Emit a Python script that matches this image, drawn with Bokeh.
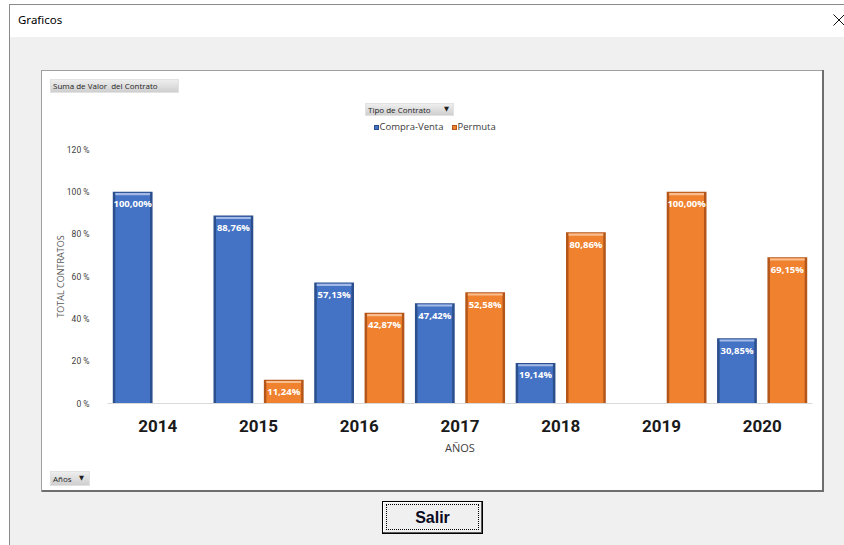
from bokeh.plotting import figure
from bokeh.models import (ColumnDataSource, FactorRange, Range1d, FixedTicker,
                          PrintfTickFormatter, LabelSet, Div, Spacer)
from bokeh.layouts import column, row
from bokeh.transform import dodge
from bokeh.core.properties import value
from bokeh.embed import file_html
from bokeh.resources import INLINE

# ---------------- data ----------------
years = ["2014", "2015", "2016", "2017", "2018", "2019", "2020"]
compra_venta = [100.00, 88.76, 57.13, 47.42, 19.14, None, 30.85]
permuta = [None, 11.24, 42.87, 52.58, 80.86, 100.00, 69.15]
series_names = ["Compra-Venta", "Permuta"]
y_ticks = [0, 20, 40, 60, 80, 100, 120]

BLUE, BLUE_DARK, BLUE_LIGHT = "#4472C4", "#2B4E8C", "#A3BAE6"
ORANGE, ORANGE_DARK, ORANGE_LIGHT = "#F0822F", "#B4561A", "#F9BE90"


def fmt(v):
    return f"{v:.2f}".replace(".", ",") + "%"


def make_source(vals):
    ys = [y for y, v in zip(years, vals) if v is not None]
    vs = [v for v in vals if v is not None]
    return ColumnDataSource(dict(
        year=ys, value=vs,
        inner_top=[v - 0.45 for v in vs],
        hl_top=[v - 0.6 for v in vs],
        hl_bottom=[v - 1.6 for v in vs],
        label=[fmt(v) for v in vs],
    ))


src_cv = make_source(compra_venta)
src_pe = make_source(permuta)

# ---------------- chart figure ----------------
p = figure(width=780, height=327,
           x_range=FactorRange(*years, range_padding=0),
           y_range=Range1d(0, 120),
           output_backend="svg", toolbar_location=None,
           min_border_left=65, min_border_right=10,
           min_border_top=10, min_border_bottom=63,
           border_fill_color="white", background_fill_color="white",
           outline_line_color=None)
p.xgrid.visible = False
p.ygrid.visible = False

styles = {
    "Compra-Venta": dict(dark=BLUE_DARK, main=BLUE, light=BLUE_LIGHT, off=-0.25, src=src_cv),
    "Permuta": dict(dark=ORANGE_DARK, main=ORANGE, light=ORANGE_LIGHT, off=0.25, src=src_pe),
}
for name in series_names:
    s = styles[name]
    xd = dodge("year", s["off"], range=p.x_range)
    p.vbar(x=xd, top="value", bottom=0, width=0.395, source=s["src"],
           fill_color=s["dark"], line_color=None)
    p.vbar(x=xd, top="inner_top", bottom=0, width=0.345, source=s["src"],
           fill_color=s["main"], line_color=None)
    p.vbar(x=xd, top="hl_top", bottom="hl_bottom", width=0.345, source=s["src"],
           fill_color=s["light"], line_color=None)
    p.add_layout(LabelSet(x=xd, y="value", text="label", source=s["src"],
                          y_offset=-12, text_align="center", text_baseline="middle",
                          text_color="white", text_font=value("Open Sans"),
                          text_font_size="9.5px", text_font_style="bold"))

p.yaxis.ticker = FixedTicker(ticks=y_ticks)
p.yaxis.formatter = PrintfTickFormatter(format="%d %%")
p.yaxis.axis_line_color = None
p.yaxis.major_tick_line_color = None
p.yaxis.minor_tick_line_color = None
p.yaxis.major_tick_out = 0
p.yaxis.major_tick_in = 0
p.yaxis.major_label_text_font = "Roboto"
p.yaxis.major_label_text_font_size = "8.5px"
p.yaxis.major_label_text_color = "#404040"
p.yaxis.major_label_standoff = 18
p.yaxis.axis_label = "TOTAL CONTRATOS"
p.yaxis.axis_label_text_font = "Open Sans"
p.yaxis.axis_label_text_font_size = "9px"
p.yaxis.axis_label_text_font_style = "normal"
p.yaxis.axis_label_text_color = "#595959"
p.yaxis.axis_label_standoff = -3

p.xaxis.axis_line_color = "#D9D9D9"
p.xaxis.major_tick_line_color = None
p.xaxis.minor_tick_line_color = None
p.xaxis.major_tick_out = 0
p.xaxis.major_tick_in = 0
p.xaxis.major_label_text_font = "Roboto"
p.xaxis.major_label_text_font_size = "17px"
p.xaxis.major_label_text_font_style = "bold"
p.xaxis.major_label_text_color = "#1A1A1A"
p.xaxis.major_label_standoff = 16
p.xaxis.axis_label = "AÑOS"
p.xaxis.axis_label_text_font = "Open Sans"
p.xaxis.axis_label_text_font_size = "11px"
p.xaxis.axis_label_text_font_style = "normal"
p.xaxis.axis_label_text_color = "#404040"
p.xaxis.axis_label_standoff = 5

# ---------------- dialog chrome (HTML) ----------------
FIELD_BTN = ("position:absolute;box-sizing:border-box;background:linear-gradient(#EEEEEE,#CFCFCF);"
             "border:1px solid #E2E2E2;font-family:'Open Sans';font-size:8px;color:#1E1E1E;"
             "white-space:pre;line-height:{h}px;")


def field_button(left, top, w, h, text, arrow_left=None):
    arrow = ""
    if arrow_left is not None:
        arrow = (f"<span style='position:absolute;left:{arrow_left}px;top:0;"
                 f"font-family:\"DejaVu Sans\";font-size:6.5px;'>▼</span>")
    return (f"<div style=\"{FIELD_BTN.format(h=h - 2)}left:{left}px;top:{top}px;"
            f"width:{w}px;height:{h}px;padding-left:2px;\">{text}{arrow}</div>")


def legend_entry(left, color, border, label):
    return (f"<div style='position:absolute;left:{left}px;top:54.5px;width:5px;height:5px;"
            f"background:{color};border:0.5px solid {border};box-sizing:border-box;'></div>"
            f"<div style='position:absolute;left:{left + 5.5}px;top:50px;line-height:14px;"
            f"font-family:\"Open Sans\";font-size:9.5px;color:#3A3A3A;white-space:nowrap;'>{label}</div>")


GRAY_LINE = "#8A8A8A"

left_strip = Div(width=10, height=545, margin=0, styles={"background-color": "white"},
                 text=f"<div style='position:relative;width:10px;height:545px;'>"
                      f"<div style='position:absolute;left:9px;top:4px;width:1px;height:541px;"
                      f"background:{GRAY_LINE};'></div></div>")

title_bar = Div(width=834, height=37, margin=0, styles={"background-color": "white"},
                text=f"<div style='position:relative;width:834px;height:37px;'>"
                     f"<div style='position:absolute;left:0;top:4px;width:834px;height:1px;background:{GRAY_LINE};'></div>"
                     f"<div style='position:absolute;left:8px;top:11px;line-height:18px;"
                     f"font-family:\"Noto Sans\";font-size:11.5px;color:#000;'>Graficos</div>"
                     f"<svg style='position:absolute;left:823px;top:14px;' width='12' height='12'>"
                     f"<line x1='0.5' y1='0.5' x2='11.5' y2='11.5' stroke='#111' stroke-width='1'/>"
                     f"<line x1='11.5' y1='0.5' x2='0.5' y2='11.5' stroke='#111' stroke-width='1'/></svg>"
                     f"</div>")

top_area = Div(width=780, height=69, margin=0, styles={"background-color": "white"},
               text="<div style='position:relative;width:780px;height:69px;background:white;'>"
                    "<div style='position:absolute;left:0;top:0;width:780px;height:1px;background:#A0A0A0;'></div>"
                    + field_button(8, 9, 129, 14, "Suma de Valor  del Contrato")
                    + field_button(323, 33, 89, 13, "Tipo de Contrato", arrow_left=78)
                    + legend_entry(332, BLUE, BLUE_DARK, series_names[0])
                    + legend_entry(410, ORANGE, ORANGE_DARK, series_names[1])
                    + "</div>")

bottom_area = Div(width=780, height=26, margin=0, styles={"background-color": "white"},
                  text="<div style='position:relative;width:780px;height:26px;background:white;'>"
                       + field_button(8, 5, 40, 15, "Años", arrow_left=28)
                       + "<div style='position:absolute;left:0;top:24px;width:780px;height:2px;background:#6E6E6E;'></div>"
                       + "</div>")

chart_left = Div(width=32, height=422, margin=0,
                 text="<div style='position:relative;width:32px;height:422px;'>"
                      "<div style='position:absolute;left:31px;top:0;width:1px;height:422px;background:#A0A0A0;'></div>"
                      "</div>")
chart_right = Div(width=22, height=422, margin=0,
                  text="<div style='position:relative;width:22px;height:422px;'>"
                       "<div style='position:absolute;left:0;top:0;width:2px;height:422px;background:#6E6E6E;'></div>"
                       "</div>")

chart_col = column(top_area, p, bottom_area, spacing=0, styles={"background-color": "white"})
chart_row = row(chart_left, chart_col, chart_right, spacing=0)

button_area = Div(width=834, height=53, margin=0,
                  text="<div style='position:relative;width:834px;height:53px;'>"
                       "<div style='position:absolute;left:372px;top:9px;width:101px;height:33px;"
                       "box-sizing:border-box;border:1px solid #000;background:#F0F0F0;"
                       "box-shadow:inset -1px -1px 0 #5A5A5A, inset 1px 1px 0 #FFFFFF;'>"
                       "<div style='position:absolute;left:3px;top:2px;right:3px;bottom:3px;"
                       "border:1px dotted #000;'></div>"
                       "<div style='position:absolute;left:0;top:0;width:100%;height:31px;line-height:31px;"
                       "text-align:center;font-family:\"Liberation Sans\";font-weight:bold;font-size:16px;"
                       "color:#0A0A1E;'>Salir</div></div></div>")

main_col = column(title_bar, Spacer(width=834, height=33), chart_row, button_area,
                  spacing=0, styles={"background-color": "#F0F0F0"})
root = row(left_strip, main_col, spacing=0, styles={"background-color": "#F0F0F0"})

open("out.html", "w").write(file_html(root, INLINE))
